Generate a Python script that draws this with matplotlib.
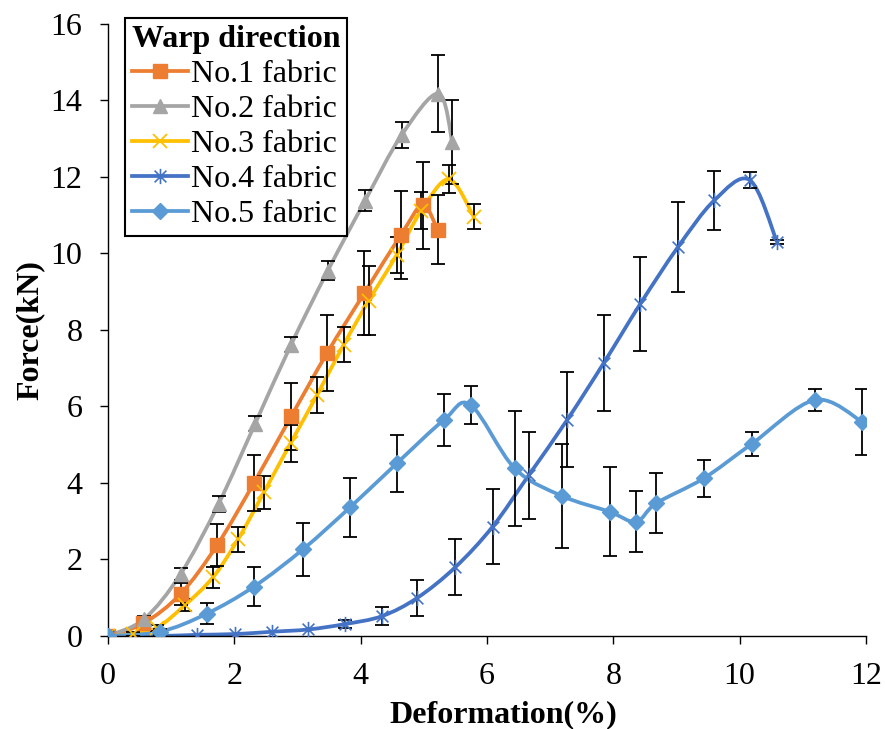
import numpy as np
import matplotlib
matplotlib.use("Agg")
import matplotlib.pyplot as plt
from matplotlib.path import Path
from matplotlib.patches import PathPatch
from matplotlib.lines import Line2D

plt.rcParams["font.family"] = ["Liberation Serif", "DejaVu Serif"]
plt.rcParams["font.serif"] = ["Liberation Serif", "DejaVu Serif"]

# values
x1 = [0, 0.56, 1.15, 1.73, 2.31, 2.90, 3.47, 4.06, 4.64, 4.98, 5.22]
y1 = [0, 0.33, 1.10, 2.38, 4.00, 5.74, 7.40, 8.97, 10.49, 11.26, 10.62]
e1 = [0, 0.08, 0.28, 0.54, 0.74, 0.88, 1.00, 1.10, 1.15, 1.13, 0.90]

x2 = [0, 0.57, 1.15, 1.75, 2.33, 2.90, 3.48, 4.07, 4.65, 5.23, 5.45]
y2 = [0, 0.44, 1.62, 3.45, 5.55, 7.62, 9.55, 11.38, 13.10, 14.18, 12.92]
e2 = [0, 0.08, 0.15, 0.20, 0.20, 0.20, 0.25, 0.28, 0.33, 1.00, 1.10]

x3 = [0, 0.39, 0.78, 1.22, 1.66, 2.06, 2.47, 2.89, 3.31, 3.73, 4.13, 4.57, 4.96, 5.40, 5.79]
y3 = [0, 0.05, 0.22, 0.81, 1.53, 2.53, 3.76, 5.04, 6.30, 7.61, 8.77, 9.96, 11.12, 11.94, 10.96]
e3 = [0, 0.05, 0.08, 0.15, 0.28, 0.33, 0.43, 0.48, 0.48, 0.46, 0.90, 0.46, 0.48, 0.37, 0.33]

x4 = [0, 0.82, 1.41, 2.01, 2.59, 3.17, 3.75, 4.34, 4.90, 5.50, 6.09, 6.66, 7.27, 7.85,
      8.43, 9.02, 9.60, 10.16, 10.59]
y4 = [0, 0.0, 0.03, 0.05, 0.11, 0.17, 0.31, 0.52, 1.00, 1.80, 2.86, 4.20, 5.65, 7.14,
      8.69, 10.16, 11.39, 11.92, 10.31]
e4 = [0, 0, 0, 0, 0, 0, 0.10, 0.23, 0.47, 0.73, 0.97, 1.14, 1.24, 1.26,
      1.23, 1.18, 0.77, 0.20, 0.05]

x5 = [0, 0.82, 1.56, 2.31, 3.09, 3.83, 4.57, 5.32, 5.74, 6.44, 7.19, 7.94, 8.36, 8.68,
      9.43, 10.19, 11.19, 11.94]
y5 = [0, 0.11, 0.58, 1.29, 2.27, 3.36, 4.51, 5.65, 6.04, 4.38, 3.66, 3.25, 2.99, 3.47,
      4.12, 5.02, 6.17, 5.60]
e5 = [0, 0.08, 0.27, 0.51, 0.69, 0.77, 0.74, 0.68, 0.49, 1.50, 1.35, 1.17, 0.80, 0.79,
      0.48, 0.31, 0.29, 0.87]

labels = ["No.1 fabric", "No.2 fabric", "No.3 fabric", "No.4 fabric", "No.5 fabric"]
colors = ["#ED7D31", "#A5A5A5", "#FFC000", "#4472C4", "#5B9BD5"]
xticks = [0, 2, 4, 6, 8, 10, 12]
yticks = [0, 2, 4, 6, 8, 10, 12, 14, 16]

# excel style "star" marker: an x with a vertical bar
star = Path([(-1, -1), (1, 1), (-1, 1), (1, -1), (0, -1.3), (0, 1.3)],
            [Path.MOVETO, Path.LINETO, Path.MOVETO, Path.LINETO, Path.MOVETO, Path.LINETO])
markers = [dict(marker="s", ms=9.5),
           dict(marker="^", ms=10),
           dict(marker="x", ms=10, mew=1.3),
           dict(marker=star, ms=11, mew=1.2),
           dict(marker="D", ms=8.5)]


def smooth_path(x, y):
    # smoothed line like excel (catmull-rom bezier through the points)
    pts = np.column_stack([x, y]).astype(float)
    n = len(pts)
    verts = [pts[0]]
    codes = [Path.MOVETO]
    for i in range(n - 1):
        p0 = pts[i - 1] if i > 0 else pts[i]
        p1, p2 = pts[i], pts[i + 1]
        p3 = pts[i + 2] if i + 2 < n else pts[i + 1]
        verts += [p1 + (p2 - p0) / 6, p2 - (p3 - p1) / 6, p2]
        codes += [Path.CURVE4] * 3
    return Path(verts, codes)


fig = plt.figure(figsize=(8.85, 7.29), dpi=100)
ax = fig.add_axes([0.122, 0.1276, 0.8565, 0.8395])

series = [(x1, y1, e1), (x2, y2, e2), (x3, y3, e3), (x4, y4, e4), (x5, y5, e5)]
handles = []
for (x, y, e), c, m, lab in zip(series, colors, markers, labels):
    ax.add_patch(PathPatch(smooth_path(x, y), facecolor="none", edgecolor=c,
                           lw=2.7, capstyle="round", zorder=2))
    x, y, e = np.array(x), np.array(y), np.array(e)
    k = e > 0
    ax.errorbar(x[k], y[k], yerr=e[k], fmt="none", ecolor="black",
                elinewidth=1.3, capsize=5, capthick=1.3, zorder=3)
    ax.plot(x, y, linestyle="none", color=c, mec=c, zorder=4, **m)
    handles.append(Line2D([], [], color=c, lw=2.7, mec=c, label=lab, **m))

ax.set_xlim(0, 12)
ax.set_ylim(0, 16)
ax.set_xticks(xticks)
ax.set_yticks(yticks)
ax.set_xticklabels([str(v) for v in xticks], fontfamily="Liberation Serif")
ax.set_yticklabels([str(v) for v in yticks], fontfamily="Liberation Serif")
ax.tick_params(direction="out", length=5.5, width=1, labelsize=23)
ax.tick_params(axis="y", pad=13)
ax.tick_params(axis="x", pad=13)
for s in ["top", "right"]:
    ax.spines[s].set_visible(False)
for s in ["left", "bottom"]:
    ax.spines[s].set_linewidth(1)
ax.set_xlabel("Deformation(%)", fontsize=23, fontweight="bold")
ax.set_ylabel("Force(kN)", fontsize=23, fontweight="bold")
ax.xaxis.set_label_coords(0.521, -0.105)
ax.yaxis.set_label_coords(-0.083, 0.5)

leg = ax.legend(handles=handles, title="Warp direction", loc="upper left",
                bbox_to_anchor=(0.022, 1.01), borderaxespad=0, fontsize=23,
                title_fontproperties={"weight": "bold", "size": 23},
                alignment="left", fancybox=False, framealpha=1,
                edgecolor="black", handlelength=1.75, handletextpad=0.1,
                labelspacing=0.18, borderpad=0.22)
leg.get_frame().set_linewidth(1.5)

fig.savefig("out.png", dpi=100)
